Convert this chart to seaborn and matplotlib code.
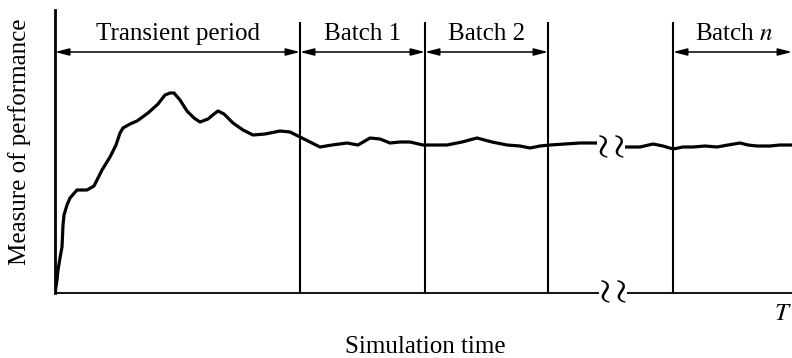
import numpy as np
import pandas as pd
import matplotlib
matplotlib.use("Agg")
import matplotlib.pyplot as plt
import seaborn as sns

# Output measure over simulated time: warm-up portion, then steady state
seg1_time = [0, 2, 3, 5, 7, 8, 9, 12, 15, 22,
             32, 39, 42, 47, 55, 61, 65, 68, 75, 82,
             93, 103, 110, 115, 119, 125, 132, 139, 145, 153,
             159, 163, 169, 178, 188, 198, 210, 225, 235, 243,
             253, 265, 277, 292, 303, 315, 325, 335, 345, 355,
             368, 392, 407, 422, 437, 452, 465, 475, 485, 495,
             510, 525, 547]
seg1_value = [0, 13, 23, 35, 46, 68, 78, 88, 95, 103,
              103, 107, 113, 123, 136, 148, 160, 165, 169, 172,
              180, 189, 198, 200, 200, 193, 182, 175, 171, 174,
              179, 182, 179, 170, 163, 158, 159, 162, 161, 157,
              152, 146, 148, 150, 148, 155, 154, 150, 151, 151,
              148, 148, 151, 155, 151, 148, 147, 145, 147, 148,
              149, 150, 150]
# after the time-axis break
seg2_time = [565, 575, 585, 598, 608, 618, 628, 638, 650, 662,
             673, 685, 693, 702, 715, 725, 737]
seg2_value = [146, 146, 146, 149, 147, 144, 146, 146, 147, 146,
              148, 150, 148, 147, 147, 148, 148]

# Period boundaries on the time axis
period_edges = [0, 245, 370, 493, 618, 737]
period_labels = ["Transient period", "Batch 1", "Batch 2", None, "Batch $n$"]
break_time = 556
t_end = 737
y_top = 283

df = pd.DataFrame({
    "time": seg1_time + seg2_time,
    "value": seg1_value + seg2_value,
    "segment": ["a"] * len(seg1_time) + ["b"] * len(seg2_time),
})

sns.set_theme(style="white")
plt.rcParams["font.family"] = ["Liberation Serif", "DejaVu Serif"]
plt.rcParams["mathtext.fontset"] = "stix"

fig = plt.figure(figsize=(7.92, 3.58), dpi=100)
ax = fig.add_axes([55 / 792, 65 / 358, 737 / 792, 283 / 358])

sns.lineplot(data=df, x="time", y="value", units="segment", estimator=None,
             color="black", lw=2.3, ax=ax, legend=False)

ax.set_xlim(0, t_end)
ax.set_ylim(0, y_top)
ax.set_xticks([])
ax.set_yticks([])
ax.set_xlabel("")
ax.set_ylabel("")
for side in ["top", "right"]:
    ax.spines[side].set_visible(False)
ax.spines["left"].set_linewidth(2.0)
ax.spines["bottom"].set_linewidth(1.3)
ax.spines["left"].set_color("black")
ax.spines["bottom"].set_color("black")

# boundary lines between periods
ax.vlines(period_edges[1:5], 0, 271, color="black", lw=1.5)

# double arrows and period names
arrow_y = 241
label_y = 253
for i, lab in enumerate(period_labels):
    if lab is None:
        continue
    x0, x1 = period_edges[i], period_edges[i + 1]
    ax.annotate("", xy=(x1, arrow_y), xytext=(x0, arrow_y),
                arrowprops=dict(arrowstyle="<|-|>,head_length=0.7,head_width=0.18",
                                color="black", lw=1.1, shrinkA=0, shrinkB=0),
                annotation_clip=False)
    ax.text((x0 + x1) / 2 + (2 if i == 4 else 0), label_y, lab,
            ha="center", va="baseline", fontsize=18, color="black")

# break symbols on the curve and on the time axis
brk = r"$\wr\wr$"
ax.text(break_time, 146, brk, ha="center", va="center", fontsize=27,
        color="black",
        bbox=dict(boxstyle="square,pad=0.0", fc="white", ec="none"))
ax.text(break_time + 2, 1, brk, ha="center", va="center", fontsize=27,
        color="black", clip_on=False,
        bbox=dict(boxstyle="square,pad=0.0", fc="white", ec="none"))

ax.text(t_end, -27, "$T$", ha="right", va="baseline", fontsize=18,
        color="black", clip_on=False)

fig.text(425 / 792, 5 / 358, "Simulation time", ha="center", va="baseline",
         fontsize=18, color="black")
fig.text(20 / 792, 1 - 142 / 358, "Measure of performance", ha="center",
         va="center", rotation=90, fontsize=18, color="black")

fig.savefig("out.png", dpi=100, facecolor="white")
